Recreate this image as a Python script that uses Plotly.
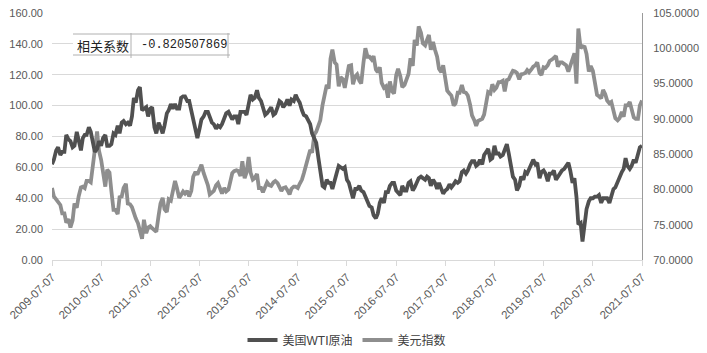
import plotly.graph_objects as go

# ---------------- data (semi-monthly readings, 7th and 21st of each month) ----------------
wti_2009 = [62, 65, 71, 73, 68, 70, 70, 81, 78, 77, 73, 74]
wti_2010 = [83, 77, 71, 79, 81, 81, 86, 83, 75, 70, 72, 77, 74, 79, 81, 74, 74, 75, 82, 81, 87, 82, 89, 90]
wti_2011 = [88, 89, 87, 93, 105, 102, 110, 112, 97, 98, 99, 93, 98, 99, 86, 82, 89, 86, 82, 87, 95, 97, 101, 98]
wti_2012 = [101, 98, 98, 105, 106, 106, 103, 103, 97, 92, 84, 79, 85, 91, 93, 96, 96, 92, 89, 88, 85, 87, 86, 88]
wti_2013 = [93, 95, 96, 93, 91, 93, 93, 88, 96, 96, 96, 94, 103, 107, 104, 105, 110, 105, 103, 99, 94, 95, 97, 99]
wti_2014 = [94, 95, 99, 103, 102, 99, 101, 104, 100, 104, 103, 107, 104, 102, 97, 94, 93, 91, 88, 82, 78, 76, 66, 56]
wti_2015 = [48, 47, 52, 50, 50, 46, 53, 56, 61, 60, 59, 60, 52, 50, 44, 40, 46, 46, 48, 45, 44, 41, 38, 35]
wti_2016 = [34, 29, 27, 30, 37, 40, 37, 44, 44, 48, 50, 50, 45, 44, 42, 48, 45, 45, 50, 51, 45, 47, 50, 53]
wti_2017 = [54, 53, 52, 54, 53, 48, 52, 50, 46, 50, 46, 43, 45, 46, 49, 47, 49, 51, 50, 51, 57, 58, 56, 58]
wti_2018 = [62, 64, 64, 61, 62, 65, 62, 68, 70, 72, 65, 66, 74, 69, 69, 67, 68, 71, 75, 69, 62, 54, 52, 45]
wti_2019 = [48, 54, 52, 57, 56, 59, 63, 65, 62, 63, 53, 57, 58, 56, 51, 56, 56, 58, 52, 54, 57, 58, 59, 61]
wti_2020 = [63, 58, 50, 53, 41, 23, 24, 12, 24, 33, 38, 40, 40, 41, 41, 42, 37, 40, 40, 40, 37, 42, 46, 47]
wti_2021 = [51, 53, 57, 59, 66, 61, 59, 61, 65, 63, 69, 73, 74]

usd_2009 = [80.2, 79.0, 78.6, 78.2, 77.8, 76.6, 76.6, 75.3, 75.8, 74.6, 75.6, 78.0]
usd_2010 = [77.4, 79.0, 80.3, 80.4, 80.2, 81.2, 81.2, 81.0, 84.1, 85.6, 88.2, 85.5,
            84.2, 82.3, 80.4, 82.8, 82.4, 79.8, 77.1, 77.1, 76.5, 78.9, 79.0, 80.2]
usd_2011 = [80.8, 78.0, 77.9, 77.5, 76.6, 75.9, 75.2, 74.1, 73.0, 75.7, 73.8, 74.6,
            74.8, 74.5, 74.3, 74.0, 76.3, 78.0, 78.8, 77.2, 76.8, 78.6, 78.4, 80.0]
usd_2012 = [81.2, 80.2, 78.8, 79.2, 79.7, 79.4, 79.8, 79.0, 79.8, 81.8, 82.5, 82.1,
            83.0, 83.5, 82.3, 81.5, 80.6, 79.3, 79.5, 79.8, 80.6, 80.9, 80.1, 79.4]
usd_2013 = [80.2, 79.7, 80.0, 81.2, 82.3, 82.6, 82.7, 82.6, 81.9, 84.0, 81.6, 82.4,
            84.6, 82.4, 81.4, 81.6, 82.2, 80.2, 80.2, 79.6, 80.6, 81.0, 80.6, 80.5]
usd_2014 = [81.0, 81.2, 80.9, 80.2, 79.8, 80.2, 80.3, 79.9, 79.3, 80.1, 80.4, 80.4,
            80.2, 80.8, 81.4, 82.3, 83.7, 84.8, 85.6, 85.2, 87.8, 88.2, 88.9, 89.8]
usd_2015 = [92.0, 93.5, 94.8, 94.3, 98.5, 99.8, 98.0, 97.7, 94.6, 95.9, 95.6, 94.4,
            96.4, 97.5, 97.6, 94.9, 96.0, 96.3, 95.4, 95.0, 98.0, 100.0, 98.8, 98.8]
usd_2016 = [98.4, 98.9, 97.0, 96.6, 97.3, 95.1, 94.4, 94.6, 93.0, 95.3, 93.9, 93.6,
            96.2, 97.1, 96.0, 94.5, 94.8, 95.4, 96.4, 98.6, 97.5, 101.2, 100.4, 103.1]
usd_2017 = [102.2, 100.7, 100.4, 101.2, 101.9, 99.8, 100.9, 99.8, 98.8, 97.1, 96.6, 97.6,
            96.0, 94.0, 93.6, 93.3, 91.9, 92.2, 93.7, 93.7, 94.8, 93.8, 93.7, 93.3]
usd_2018 = [92.0, 90.5, 89.8, 89.0, 89.7, 89.9, 90.0, 90.6, 92.8, 93.8, 93.6, 94.9,
            94.1, 94.4, 95.2, 95.2, 95.4, 93.9, 95.5, 95.6, 96.3, 96.8, 96.7, 96.5]
usd_2019 = [95.6, 96.3, 96.4, 96.5, 96.9, 96.6, 97.0, 97.4, 97.6, 98.0, 96.5, 96.2,
            97.3, 97.2, 97.6, 98.2, 98.4, 98.6, 98.9, 97.4, 98.0, 98.0, 97.7, 97.6]
usd_2020 = [96.7, 97.5, 98.7, 99.3, 95.0, 102.8, 100.0, 100.3, 100.2, 99.2, 96.7, 97.5,
            96.8, 95.1, 93.4, 93.2, 92.9, 94.1, 93.5, 92.6, 92.2, 92.4, 90.8, 90.1]
usd_2021 = [89.8, 90.1, 91.0, 90.3, 91.9, 91.9, 92.4, 91.2, 90.2, 90.0, 90.0, 91.9, 92.6]

wti = (wti_2009 + wti_2010 + wti_2011 + wti_2012 + wti_2013 + wti_2014 + wti_2015
       + wti_2016 + wti_2017 + wti_2018 + wti_2019 + wti_2020 + wti_2021)
usd = (usd_2009 + usd_2010 + usd_2011 + usd_2012 + usd_2013 + usd_2014 + usd_2015
       + usd_2016 + usd_2017 + usd_2018 + usd_2019 + usd_2020 + usd_2021)

dates = []
for yr in range(2009, 2022):
    for mo in range(1, 13):
        for dd in (7, 21):
            s = f"{yr}-{mo:02d}-{dd:02d}"
            if "2009-07-07" <= s <= "2021-07-07":
                dates.append(s)

tick_labels = [f"{yr}-07-07" for yr in range(2009, 2022)]
corr_label = "相关系数"
corr_value = "-0.820507869"

# ---------------- figure ----------------
W, H = 707, 353
L, R, T, B = 52, 65, 13, 93
PW, PH = W - L - R, H - T - B


def px(x):
    return (x - L) / PW


def py(y):
    return (T + PH - y) / PH


fig = go.Figure()
fig.add_trace(go.Scatter(x=dates, y=wti, name="美国WTI原油", yaxis="y2", mode="lines",
                         line=dict(color="#505050", width=3.8)))
fig.add_trace(go.Scatter(x=dates, y=usd, name="美元指数", yaxis="y", mode="lines",
                         line=dict(color="#8e8e8e", width=3.8)))

tickfont = dict(family="Liberation Sans, Arial, sans-serif", size=11, color="#595959")

fig.update_layout(
    width=W, height=H,
    margin=dict(l=L, r=R, t=T, b=B, pad=0, autoexpand=False),
    paper_bgcolor="white", plot_bgcolor="white",
    showlegend=True,
    legend=dict(orientation="h", x=0.5, xanchor="center", y=py(340), yanchor="middle",
                font=dict(family="Liberation Sans, Noto Sans CJK SC", size=12, color="#404040"),
                bgcolor="rgba(0,0,0,0)", itemwidth=30, tracegroupgap=0),
    xaxis=dict(type="date", range=["2009-07-07", "2021-07-07"], automargin=False,
               tickvals=tick_labels, ticktext=tick_labels, tickangle=-45,
               tickfont=dict(family="Liberation Sans, Arial, sans-serif", size=11.5, color="#595959"),
               showgrid=False, showline=True, linecolor="#d9d9d9", linewidth=1,
               ticks="outside", ticklen=5, tickcolor="#d9d9d9", zeroline=False),
    yaxis=dict(side="right", range=[70, 105], dtick=5, tick0=70, tickformat=".4f", automargin=False,
               showgrid=False, zeroline=False, showline=True, linecolor="#9a9a9a", linewidth=1,
               ticks="", tickfont=tickfont, ticklabelstandoff=8),
    yaxis2=dict(side="left", overlaying="y", range=[0, 160], dtick=20, tick0=0, tickformat=".2f",
                automargin=False,
                showgrid=True, gridcolor="#d9d9d9", gridwidth=1, zeroline=False, showline=False,
                ticks="", tickfont=tickfont, ticklabelstandoff=8),
)

# correlation table box
line_col = "#b0b0b0"
fig.add_shape(type="rect", xref="paper", yref="paper", x0=px(73), x1=px(229), y0=py(55), y1=py(34),
              fillcolor="white", line=dict(width=0), layer="above")
for (x0, x1, y0, y1) in [(73, 230, 34, 34), (73, 230, 55, 55), (131, 131, 33, 58), (228, 228, 33, 58)]:
    fig.add_shape(type="line", xref="paper", yref="paper", x0=px(x0), x1=px(x1), y0=py(y0), y1=py(y1),
                  line=dict(color=line_col, width=1), layer="above")

fig.add_annotation(xref="paper", yref="paper", x=px(103), y=py(45), text=corr_label, showarrow=False,
                   xanchor="center", yanchor="middle",
                   font=dict(family="Noto Sans CJK SC", size=13, color="#222222"))
fig.add_annotation(xref="paper", yref="paper", x=px(139), y=py(45), text=corr_value, showarrow=False,
                   xanchor="left", yanchor="middle",
                   font=dict(family="Liberation Mono, DejaVu Sans Mono, monospace", size=12, color="#222222"))

fig.write_html("out.html")
